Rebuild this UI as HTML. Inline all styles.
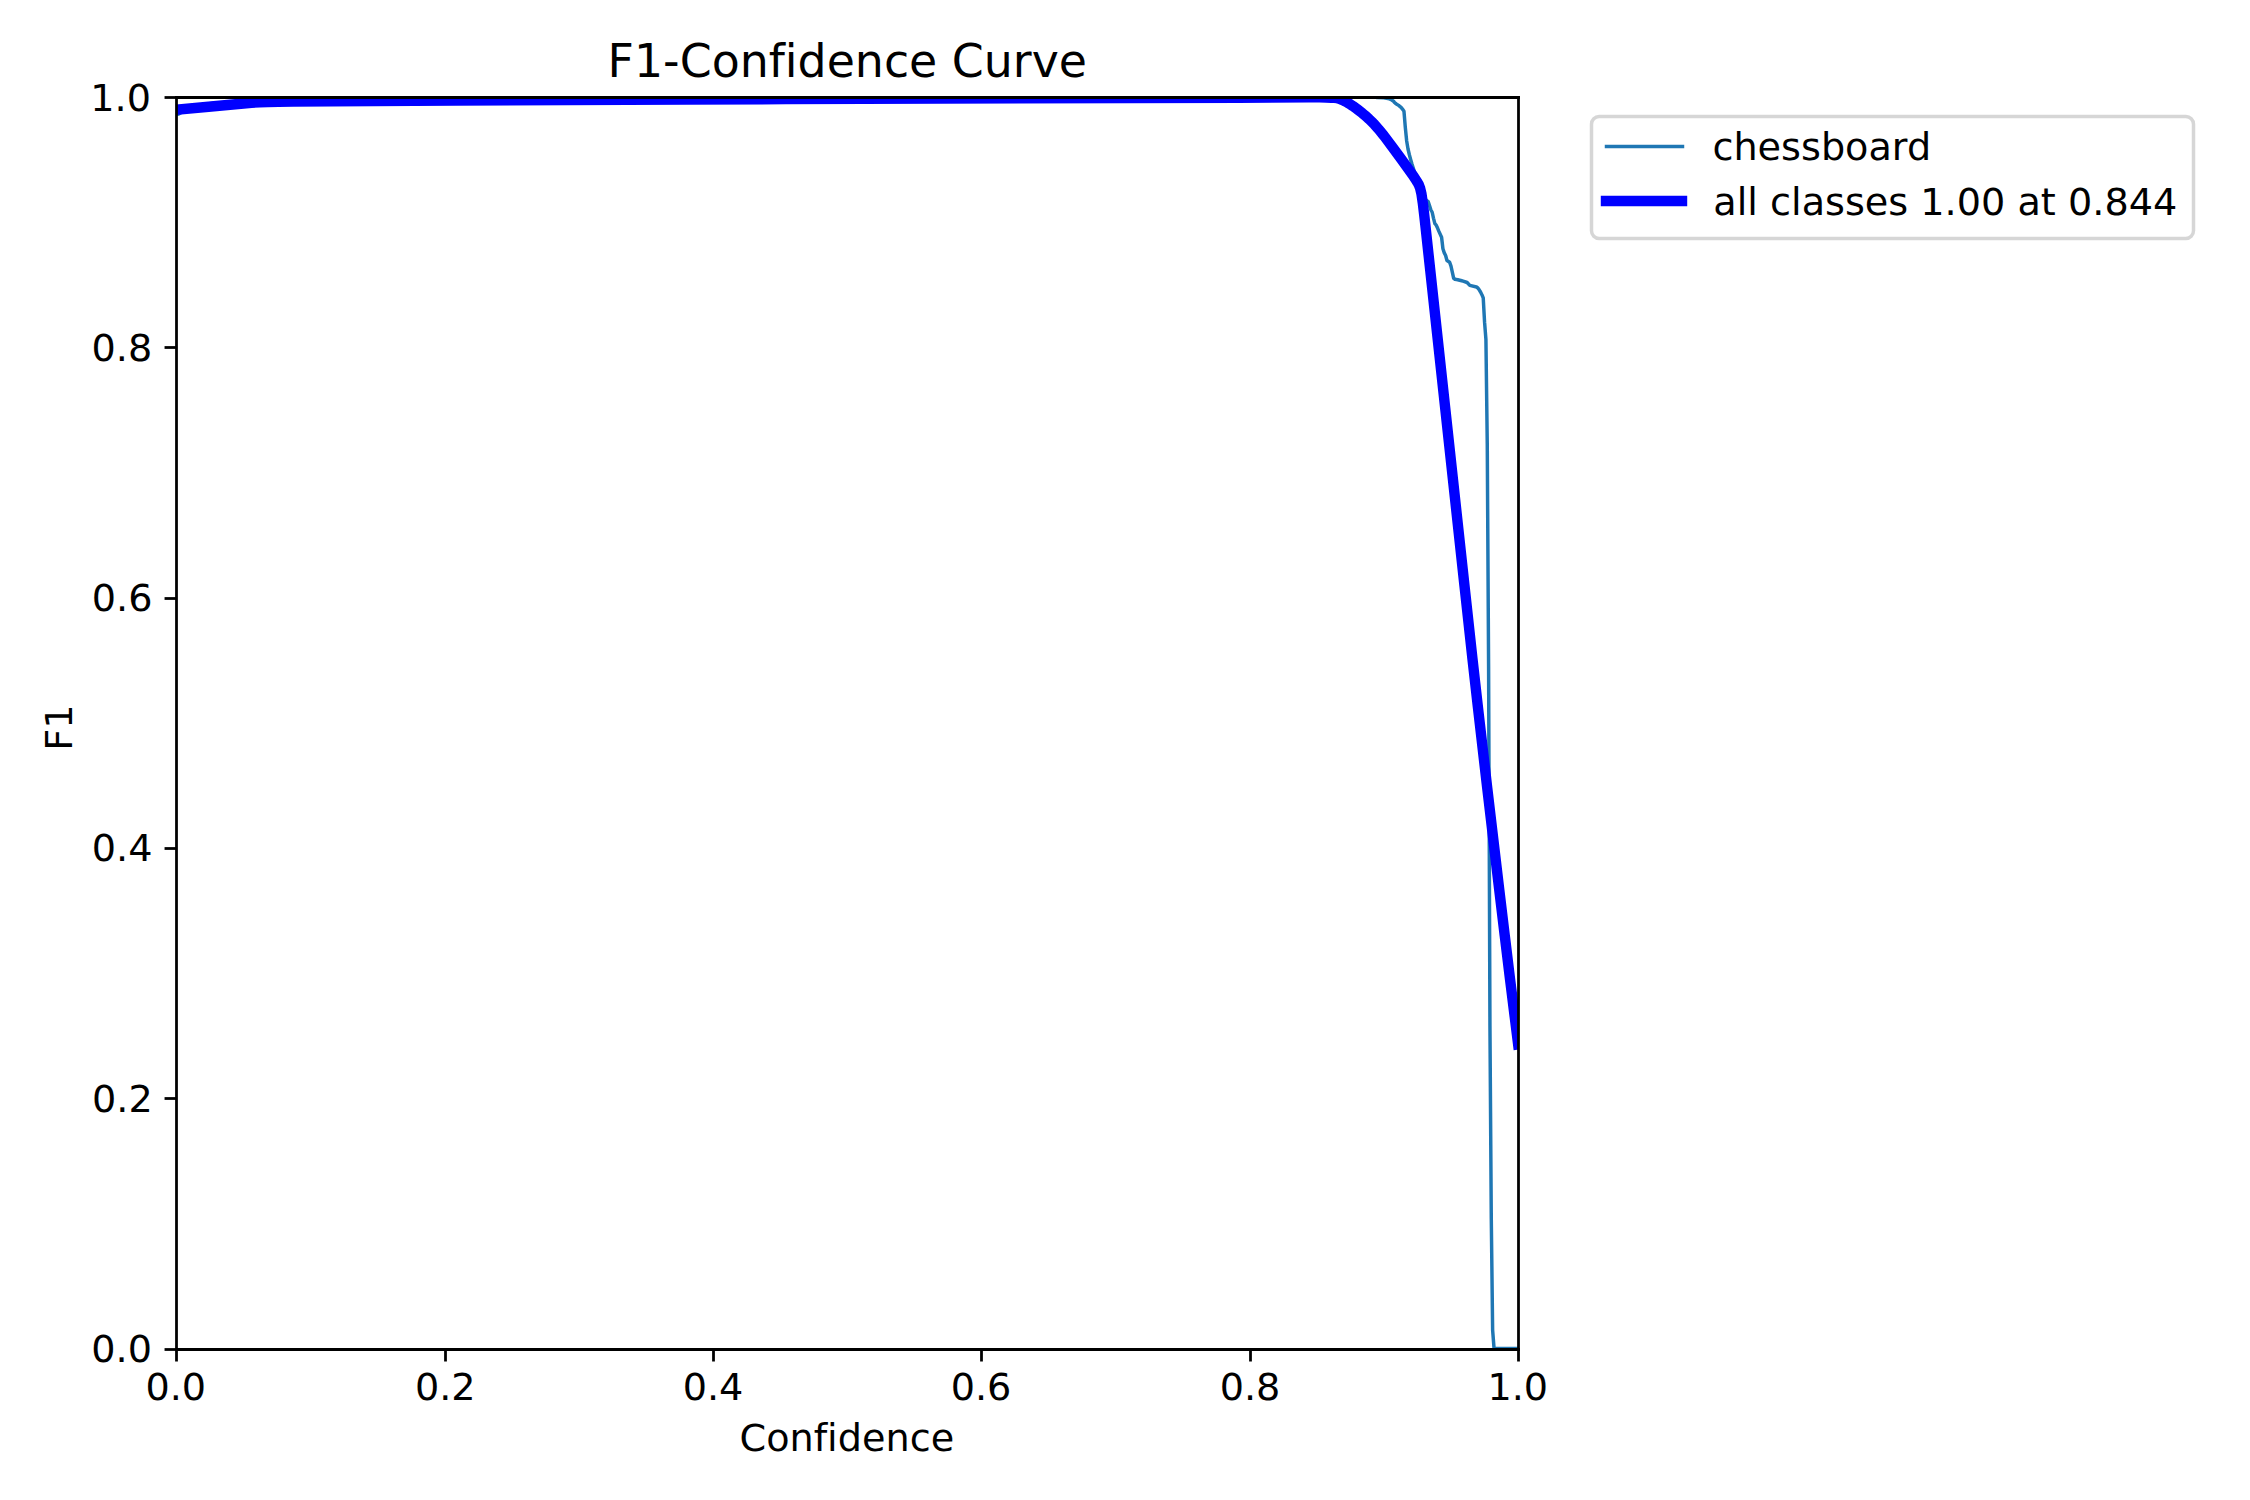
<!DOCTYPE html>
<html lang="en">
<head>
<meta charset="utf-8">
<title>F1-Confidence Curve</title>
<style>
html,body{margin:0;padding:0;background:#fff;}
body{width:2250px;height:1500px;overflow:hidden;}
svg{display:block;}
text{font-family:"DejaVu Sans", "Liberation Sans", sans-serif;fill:#000;font-variant-ligatures:none;font-feature-settings:"liga" 0,"clig" 0;}
.t{font-size:38.194px;}
.title{font-size:45.833px;}
</style>
</head>
<body>
<svg width="2250" height="1500" viewBox="0 0 2250 1500">
<rect x="0" y="0" width="2250" height="1500" fill="#ffffff"/>
<defs><clipPath id="ax"><rect x="176.32" y="97.08" width="1341.83" height="1251.47"/></clipPath></defs>
<g clip-path="url(#ax)" fill="none" stroke-linejoin="round" stroke-linecap="square">
<polyline stroke="#1f77b4" stroke-width="3.472" points="176.32,114.35 177.66,114.34 179.01,113.94 180.35,113.00 183.04,111.33 185.72,109.92 188.41,108.72 189.75,108.19 192.44,107.25 195.12,106.46 197.81,105.78 200.50,105.20 203.18,104.70 205.87,104.28 209.90,103.76 213.93,103.35 217.96,103.02 226.02,102.55 234.08,102.23 243.48,101.98 252.88,101.82 267.66,101.66 307.95,101.39 470.48,100.46 729.71,99.34 1304.59,97.46 1326.08,97.08 1375.78,97.08 1377.12,97.56 1383.84,97.89 1389.21,98.78 1390.55,99.30 1393.24,100.97 1394.58,102.49 1395.92,103.73 1398.61,105.38 1401.30,107.64 1402.64,109.37 1403.98,111.28 1405.33,127.56 1406.67,140.99 1408.01,148.99 1409.36,154.76 1410.70,159.67 1412.04,164.35 1421.44,193.77 1422.79,196.42 1425.47,199.57 1428.16,201.66 1429.50,205.67 1430.85,209.87 1432.19,212.25 1433.53,218.33 1434.88,223.63 1436.22,225.16 1437.56,228.08 1438.91,231.39 1441.59,237.28 1442.93,248.78 1444.28,252.84 1445.62,255.46 1446.96,260.51 1449.65,262.27 1450.99,266.17 1453.68,278.26 1455.02,279.25 1457.71,279.71 1461.74,280.79 1463.08,281.16 1467.11,282.50 1469.80,285.42 1476.51,287.01 1477.86,287.96 1479.20,289.80 1480.54,291.99 1481.89,294.67 1483.23,297.95 1484.57,322.18 1485.92,339.27 1487.26,443.62 1488.60,667.77 1489.95,1025.87 1491.29,1218.77 1492.63,1330.03 1493.98,1347.50 1495.32,1348.56 1518.15,1348.56"/>
<polyline stroke="#0000ff" stroke-width="10.417" points="176.32,109.80 208.56,106.80 246.16,103.23 251.54,102.78 259.60,102.32 267.66,102.02 278.40,101.76 293.18,101.55 332.13,101.26 455.70,100.56 686.73,99.53 786.12,99.15 1238.77,97.67 1308.62,97.34 1319.36,97.35 1326.08,97.45 1331.45,97.70 1334.14,97.89 1336.82,98.14 1338.17,98.44 1339.51,98.87 1340.85,99.38 1343.54,100.56 1344.88,101.22 1347.57,102.67 1350.26,104.29 1352.94,106.07 1356.97,109.00 1362.34,113.13 1365.03,115.38 1369.06,119.09 1373.09,123.06 1374.43,124.45 1375.78,125.95 1378.46,129.05 1383.84,135.60 1385.18,137.33 1391.89,146.35 1401.30,159.15 1410.70,172.27 1413.39,176.11 1416.07,180.06 1417.41,182.29 1418.76,184.68 1420.10,188.11 1421.44,193.77 1422.79,202.96 1424.13,214.07 1425.47,226.27 1464.43,585.30 1472.48,659.02 1477.86,706.77 1487.26,788.26 1499.35,890.65 1504.72,935.36 1510.09,979.55 1518.15,1044.40"/>
</g>
<g stroke="#000" stroke-width="2.778" fill="none">
<line x1="176.5" y1="1348.56" x2="176.5" y2="1361.5"/>
<line x1="445.5" y1="1348.56" x2="445.5" y2="1361.5"/>
<line x1="713.5" y1="1348.56" x2="713.5" y2="1361.5"/>
<line x1="981.5" y1="1348.56" x2="981.5" y2="1361.5"/>
<line x1="1250.5" y1="1348.56" x2="1250.5" y2="1361.5"/>
<line x1="1518.5" y1="1348.56" x2="1518.5" y2="1361.5"/>
<line x1="164.55" y1="1349.5" x2="176.32" y2="1349.5"/>
<line x1="164.55" y1="1098.5" x2="176.32" y2="1098.5"/>
<line x1="164.55" y1="848.5" x2="176.32" y2="848.5"/>
<line x1="164.55" y1="598.5" x2="176.32" y2="598.5"/>
<line x1="164.55" y1="347.5" x2="176.32" y2="347.5"/>
<line x1="164.55" y1="97.5" x2="176.32" y2="97.5"/>
<line x1="176.5" y1="96.11" x2="176.5" y2="1350.89"/>
<line x1="1518.5" y1="96.11" x2="1518.5" y2="1350.89"/>
<line x1="175.11" y1="97.5" x2="1519.89" y2="97.5"/>
<line x1="175.11" y1="1349.5" x2="1519.89" y2="1349.5"/>
</g>
<g class="t" text-anchor="middle">
<text transform="translate(175.80 1399.60) scale(1 0.97)">0.0</text>
<text transform="translate(445.30 1399.60) scale(1 0.97)">0.2</text>
<text transform="translate(713.05 1399.60) scale(1 0.97)">0.4</text>
<text transform="translate(981.05 1399.60) scale(1 0.97)">0.6</text>
<text transform="translate(1250.05 1399.60) scale(1 0.97)">0.8</text>
<text transform="translate(1517.80 1399.60) scale(1 0.97)">1.0</text>
</g>
<g class="t" text-anchor="end">
<text transform="translate(151.93 1361.65) scale(1 0.97)">0.0</text>
<text transform="translate(152.68 1111.65) scale(1 0.97)">0.2</text>
<text transform="translate(152.43 860.65) scale(1 0.97)">0.4</text>
<text transform="translate(152.43 610.65) scale(1 0.97)">0.6</text>
<text transform="translate(152.18 360.65) scale(1 0.97)">0.8</text>
<text transform="translate(150.93 110.65) scale(1 0.97)">1.0</text>
</g>
<text class="title" text-anchor="middle" transform="translate(847.30 76.60) scale(1 0.99)">F1-Confidence Curve</text>
<text class="t" text-anchor="middle" transform="translate(846.80 1450.60) scale(1 0.97)">Confidence</text>
<text class="t" text-anchor="middle" transform="translate(71.60,727.50) rotate(-90) scale(1 0.97)">F1</text>
<rect x="1591.5" y="116.5" width="602" height="122" rx="7.64" ry="7.64" fill="#ffffff" fill-opacity="0.8" stroke="#cccccc" stroke-opacity="0.8" stroke-width="3.472"/>
<line x1="1606.5" y1="146.5" x2="1682.5" y2="146.5" stroke="#1f77b4" stroke-width="3.472" stroke-linecap="square"/>
<line x1="1606" y1="201" x2="1682" y2="201" stroke="#0000ff" stroke-width="10.417" stroke-linecap="square"/>
<text class="t" transform="translate(1712.42 159.60) scale(1 0.97)">chessboard</text>
<text class="t" transform="translate(1713.30 214.60) scale(1 0.97)">all classes 1.00 at 0.844</text>
</svg>
</body>
</html>
